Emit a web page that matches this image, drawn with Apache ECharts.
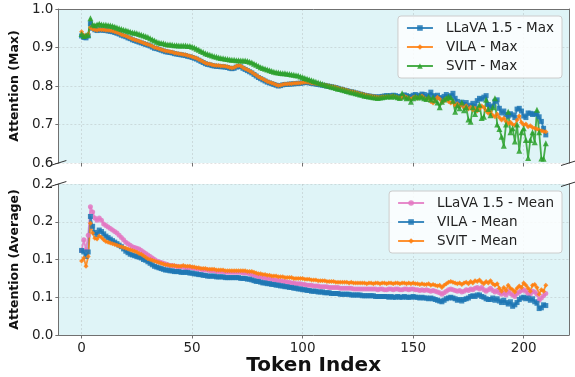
<!DOCTYPE html>
<html>
<head>
<meta charset="utf-8">
<script src="https://cdn.jsdelivr.net/npm/echarts@6.0.0/dist/echarts.min.js"></script>
<style>
  html, body { margin: 0; background: #fff; }
  #chart { width: 575px; height: 377px; }
</style>
</head>
<body>
<div id="chart"></div>
<script>
// token index 0..210
const tokens = Array.from({ length: 211 }, (_, i) => i);

const xTicks = [0, 50, 100, 150, 200];
const yMaxTicks = [0.6, 0.7, 0.8, 0.9, 1.0];
const yMaxLabels = ["0.6", "0.7", "0.8", "0.9", "1.0"];
const yAvgTicks = [0, 0.05, 0.1, 0.15, 0.2];
const yAvgLabels = ["0.0", "0.1", "0.1", "0.2", "0.2"];

// --- top panel: max attention ---
const llavaMax = [
  0.930, 0.926, 0.925, 0.930, 0.962, 0.950, 0.946, 0.944, 0.946, 0.945,
  0.945, 0.944, 0.943, 0.942, 0.941, 0.939, 0.937, 0.935, 0.932, 0.930,
  0.928, 0.925, 0.923, 0.920, 0.918, 0.916, 0.914, 0.912, 0.910, 0.908,
  0.906, 0.904, 0.901, 0.898, 0.897, 0.895, 0.893, 0.891, 0.889, 0.888,
  0.887, 0.886, 0.884, 0.883, 0.882, 0.881, 0.880, 0.879, 0.877, 0.876,
  0.874, 0.872, 0.870, 0.867, 0.864, 0.861, 0.858, 0.856, 0.855, 0.853,
  0.852, 0.851, 0.851, 0.850, 0.850, 0.849, 0.848, 0.846, 0.845, 0.846,
  0.849, 0.851, 0.850, 0.846, 0.843, 0.840, 0.837, 0.834, 0.830, 0.826,
  0.822, 0.819, 0.816, 0.813, 0.810, 0.808, 0.806, 0.804, 0.802, 0.800,
  0.801, 0.803, 0.804, 0.804, 0.805, 0.805, 0.806, 0.806, 0.807, 0.807,
  0.808, 0.809, 0.809, 0.808, 0.807, 0.806, 0.805, 0.804, 0.803, 0.802,
  0.801, 0.800, 0.799, 0.798, 0.797, 0.796, 0.794, 0.792, 0.791, 0.789,
  0.788, 0.786, 0.785, 0.784, 0.782, 0.781, 0.779, 0.778, 0.776, 0.775,
  0.774, 0.773, 0.772, 0.772, 0.771, 0.772, 0.773, 0.774, 0.775, 0.774,
  0.775, 0.776, 0.775, 0.773, 0.772, 0.774, 0.777, 0.775, 0.773, 0.772,
  0.776, 0.778, 0.774, 0.776, 0.779, 0.778, 0.772, 0.776, 0.784, 0.775,
  0.772, 0.776, 0.770, 0.768, 0.773, 0.778, 0.772, 0.775, 0.781, 0.768,
  0.760, 0.751, 0.758, 0.752, 0.757, 0.745, 0.750, 0.755, 0.748, 0.762,
  0.768, 0.766, 0.771, 0.775, 0.752, 0.745, 0.748, 0.760, 0.764, 0.742,
  0.730, 0.735, 0.726, 0.722, 0.728, 0.725, 0.718, 0.740, 0.742, 0.735,
  0.722, 0.718, 0.730, 0.729, 0.726, 0.728, 0.727, 0.720, 0.708, 0.690,
  0.673
];
const vilaMax = [
  0.941, 0.932, 0.930, 0.935, 0.952, 0.948, 0.946, 0.945, 0.947, 0.946,
  0.946, 0.945, 0.945, 0.944, 0.943, 0.941, 0.939, 0.937, 0.934, 0.932,
  0.930, 0.927, 0.925, 0.922, 0.920, 0.918, 0.916, 0.914, 0.912, 0.910,
  0.908, 0.906, 0.903, 0.900, 0.899, 0.897, 0.895, 0.893, 0.891, 0.890,
  0.889, 0.888, 0.886, 0.885, 0.884, 0.883, 0.882, 0.881, 0.879, 0.878,
  0.876, 0.874, 0.872, 0.869, 0.866, 0.863, 0.860, 0.858, 0.857, 0.855,
  0.854, 0.853, 0.853, 0.852, 0.852, 0.851, 0.850, 0.848, 0.847, 0.848,
  0.851, 0.853, 0.852, 0.848, 0.845, 0.842, 0.839, 0.836, 0.832, 0.828,
  0.824, 0.821, 0.818, 0.815, 0.812, 0.810, 0.808, 0.806, 0.803, 0.801,
  0.802, 0.804, 0.805, 0.805, 0.806, 0.806, 0.807, 0.807, 0.808, 0.808,
  0.809, 0.810, 0.810, 0.809, 0.808, 0.807, 0.806, 0.805, 0.804, 0.803,
  0.802, 0.801, 0.800, 0.799, 0.798, 0.797, 0.795, 0.793, 0.792, 0.790,
  0.789, 0.787, 0.786, 0.785, 0.783, 0.782, 0.780, 0.779, 0.777, 0.776,
  0.775, 0.774, 0.773, 0.772, 0.771, 0.771, 0.772, 0.772, 0.773, 0.772,
  0.773, 0.774, 0.772, 0.770, 0.768, 0.770, 0.774, 0.771, 0.768, 0.766,
  0.770, 0.772, 0.768, 0.771, 0.774, 0.769, 0.765, 0.768, 0.760, 0.756,
  0.764, 0.771, 0.766, 0.758, 0.762, 0.767, 0.760, 0.756, 0.759, 0.750,
  0.754, 0.748, 0.752, 0.744, 0.749, 0.740, 0.745, 0.738, 0.742, 0.735,
  0.741, 0.748, 0.744, 0.736, 0.729, 0.733, 0.724, 0.720, 0.727, 0.718,
  0.712, 0.716, 0.708, 0.702, 0.706, 0.700, 0.698, 0.712, 0.722, 0.705,
  0.699, 0.701, 0.694, 0.697, 0.692, 0.690, 0.688, 0.686, 0.684, 0.682,
  0.681
];
const svitMax = [
  0.935, 0.930, 0.932, 0.933, 0.976, 0.960, 0.958, 0.960, 0.962, 0.960,
  0.959, 0.959, 0.958, 0.957, 0.956, 0.954, 0.952, 0.950, 0.948, 0.946,
  0.945, 0.943, 0.941, 0.939, 0.938, 0.937, 0.935, 0.933, 0.931, 0.929,
  0.927, 0.924, 0.921, 0.918, 0.915, 0.913, 0.912, 0.911, 0.909, 0.908,
  0.908, 0.907, 0.906, 0.906, 0.905, 0.905, 0.905, 0.905, 0.904, 0.904,
  0.902, 0.900, 0.897, 0.894, 0.891, 0.888, 0.885, 0.883, 0.881, 0.879,
  0.877, 0.876, 0.874, 0.873, 0.872, 0.871, 0.870, 0.869, 0.868, 0.868,
  0.867, 0.867, 0.866, 0.866, 0.866, 0.865, 0.863, 0.861, 0.858, 0.855,
  0.852, 0.849, 0.847, 0.845, 0.843, 0.841, 0.839, 0.837, 0.836, 0.835,
  0.834, 0.833, 0.833, 0.832, 0.831, 0.830, 0.829, 0.828, 0.827, 0.825,
  0.823, 0.821, 0.819, 0.817, 0.815, 0.813, 0.811, 0.809, 0.807, 0.805,
  0.803, 0.801, 0.800, 0.798, 0.797, 0.795, 0.793, 0.792, 0.790, 0.789,
  0.787, 0.786, 0.784, 0.783, 0.781, 0.780, 0.778, 0.777, 0.775, 0.774,
  0.773, 0.772, 0.771, 0.770, 0.769, 0.770, 0.771, 0.772, 0.773, 0.774,
  0.772, 0.775, 0.773, 0.771, 0.769, 0.781, 0.772, 0.768, 0.770, 0.759,
  0.768, 0.773, 0.770, 0.774, 0.771, 0.768, 0.766, 0.772, 0.765, 0.770,
  0.763, 0.757, 0.745, 0.759, 0.765, 0.768, 0.772, 0.770, 0.762, 0.733,
  0.750, 0.742, 0.757, 0.737, 0.745, 0.713, 0.707, 0.745, 0.727, 0.740,
  0.751, 0.717, 0.720, 0.764, 0.740, 0.724, 0.745, 0.768, 0.700, 0.688,
  0.668, 0.645, 0.700, 0.733, 0.680, 0.690, 0.656, 0.700, 0.632, 0.680,
  0.690, 0.660, 0.613, 0.660, 0.680, 0.654, 0.738, 0.680, 0.612, 0.611,
  0.651
];

// --- bottom panel: mean attention ---
const llavaMean = [
  0.112, 0.126, 0.113, 0.132, 0.170, 0.163, 0.155, 0.152, 0.155, 0.152,
  0.147, 0.145, 0.143, 0.141, 0.139, 0.137, 0.135, 0.132, 0.129, 0.126,
  0.123, 0.121, 0.119, 0.117, 0.116, 0.115, 0.114, 0.112, 0.110, 0.108,
  0.106, 0.104, 0.102, 0.100, 0.098, 0.097, 0.096, 0.095, 0.094, 0.093,
  0.092, 0.092, 0.091, 0.091, 0.090, 0.090, 0.090, 0.089, 0.089, 0.089,
  0.089, 0.088, 0.088, 0.087, 0.087, 0.086, 0.086, 0.086, 0.085, 0.085,
  0.085, 0.084, 0.084, 0.084, 0.084, 0.083, 0.083, 0.083, 0.083, 0.083,
  0.083, 0.083, 0.083, 0.082, 0.082, 0.082, 0.081, 0.080, 0.079, 0.078,
  0.077, 0.077, 0.076, 0.075, 0.075, 0.074, 0.074, 0.073, 0.073, 0.072,
  0.072, 0.071, 0.071, 0.070, 0.070, 0.069, 0.069, 0.068, 0.068, 0.068,
  0.067, 0.067, 0.066, 0.066, 0.066, 0.065, 0.065, 0.065, 0.064, 0.064,
  0.064, 0.064, 0.063, 0.063, 0.063, 0.063, 0.063, 0.062, 0.062, 0.062,
  0.062, 0.062, 0.062, 0.061, 0.061, 0.061, 0.061, 0.061, 0.061, 0.061,
  0.061, 0.061, 0.061, 0.061, 0.060, 0.061, 0.061, 0.060, 0.060, 0.061,
  0.061, 0.060, 0.061, 0.061, 0.060, 0.060, 0.061, 0.061, 0.060, 0.061,
  0.061, 0.060, 0.060, 0.059, 0.060, 0.059, 0.060, 0.059, 0.058, 0.059,
  0.058, 0.057, 0.056, 0.054, 0.056, 0.058, 0.060, 0.061, 0.060, 0.059,
  0.058, 0.059, 0.057, 0.058, 0.060, 0.059, 0.061, 0.060, 0.062, 0.063,
  0.061, 0.063, 0.060, 0.058, 0.060, 0.062, 0.059, 0.057, 0.059, 0.056,
  0.054, 0.056, 0.053, 0.058, 0.055, 0.053, 0.051, 0.055, 0.057, 0.059,
  0.060, 0.058, 0.055, 0.054, 0.058, 0.057, 0.054, 0.046, 0.049, 0.052,
  0.055
];
const vilaMean = [
  0.112, 0.110, 0.104, 0.110, 0.157, 0.144, 0.136, 0.133, 0.139, 0.137,
  0.134, 0.131, 0.129, 0.127, 0.125, 0.123, 0.121, 0.119, 0.117, 0.114,
  0.111, 0.109, 0.107, 0.106, 0.105, 0.104, 0.103, 0.102, 0.100, 0.099,
  0.097, 0.095, 0.093, 0.091, 0.090, 0.089, 0.088, 0.087, 0.086, 0.086,
  0.085, 0.085, 0.084, 0.084, 0.084, 0.083, 0.083, 0.083, 0.083, 0.082,
  0.082, 0.081, 0.081, 0.080, 0.080, 0.079, 0.079, 0.078, 0.078, 0.078,
  0.078, 0.077, 0.077, 0.077, 0.077, 0.076, 0.076, 0.076, 0.076, 0.076,
  0.076, 0.076, 0.075, 0.075, 0.075, 0.074, 0.074, 0.073, 0.072, 0.071,
  0.071, 0.070, 0.069, 0.069, 0.068, 0.068, 0.067, 0.067, 0.066, 0.066,
  0.065, 0.065, 0.064, 0.064, 0.063, 0.063, 0.062, 0.062, 0.061, 0.061,
  0.060, 0.060, 0.059, 0.059, 0.058, 0.058, 0.058, 0.057, 0.057, 0.057,
  0.056, 0.056, 0.056, 0.055, 0.055, 0.055, 0.055, 0.054, 0.054, 0.054,
  0.054, 0.054, 0.053, 0.053, 0.053, 0.053, 0.053, 0.052, 0.052, 0.052,
  0.052, 0.052, 0.052, 0.051, 0.051, 0.051, 0.051, 0.051, 0.051, 0.050,
  0.051, 0.050, 0.050, 0.051, 0.050, 0.050, 0.051, 0.050, 0.050, 0.050,
  0.051, 0.050, 0.050, 0.049, 0.050, 0.049, 0.049, 0.048, 0.049, 0.048,
  0.047, 0.046, 0.045, 0.044, 0.046, 0.048, 0.049, 0.050, 0.049, 0.048,
  0.046, 0.047, 0.045, 0.047, 0.048, 0.049, 0.051, 0.052, 0.051, 0.053,
  0.053, 0.051, 0.050, 0.048, 0.047, 0.047, 0.049, 0.046, 0.048, 0.045,
  0.043, 0.046, 0.043, 0.041, 0.044, 0.038, 0.040, 0.043, 0.047, 0.049,
  0.050, 0.048, 0.049, 0.046, 0.048, 0.044, 0.042, 0.035, 0.036, 0.040,
  0.039
];
const svitMean = [
  0.098, 0.102, 0.091, 0.104, 0.148, 0.135, 0.128, 0.127, 0.131, 0.129,
  0.126, 0.124, 0.123, 0.122, 0.121, 0.120, 0.119, 0.118, 0.117, 0.116,
  0.115, 0.114, 0.113, 0.112, 0.111, 0.110, 0.108, 0.107, 0.105, 0.103,
  0.101, 0.100, 0.099, 0.098, 0.097, 0.096, 0.095, 0.094, 0.093, 0.093,
  0.092, 0.092, 0.092, 0.091, 0.091, 0.091, 0.092, 0.091, 0.091, 0.091,
  0.090, 0.090, 0.089, 0.089, 0.088, 0.088, 0.088, 0.087, 0.087, 0.087,
  0.087, 0.086, 0.086, 0.086, 0.086, 0.085, 0.085, 0.085, 0.085, 0.085,
  0.085, 0.085, 0.085, 0.085, 0.085, 0.084, 0.084, 0.084, 0.083, 0.082,
  0.081, 0.081, 0.080, 0.080, 0.079, 0.079, 0.078, 0.078, 0.078, 0.077,
  0.077, 0.077, 0.076, 0.076, 0.076, 0.076, 0.075, 0.075, 0.075, 0.075,
  0.075, 0.074, 0.074, 0.074, 0.073, 0.073, 0.073, 0.072, 0.072, 0.072,
  0.072, 0.071, 0.071, 0.071, 0.071, 0.070, 0.070, 0.070, 0.070, 0.070,
  0.070, 0.069, 0.070, 0.069, 0.069, 0.069, 0.069, 0.069, 0.069, 0.068,
  0.069, 0.069, 0.068, 0.069, 0.069, 0.068, 0.069, 0.069, 0.068, 0.069,
  0.069, 0.068, 0.069, 0.069, 0.068, 0.069, 0.069, 0.068, 0.069, 0.068,
  0.069, 0.068, 0.068, 0.067, 0.068, 0.067, 0.067, 0.068, 0.066, 0.067,
  0.066, 0.065, 0.066, 0.063, 0.066, 0.068, 0.070, 0.071, 0.070, 0.069,
  0.068, 0.069, 0.067, 0.069, 0.070, 0.068, 0.071, 0.069, 0.072, 0.071,
  0.073, 0.070, 0.068, 0.071, 0.069, 0.072, 0.068, 0.066, 0.068, 0.062,
  0.058, 0.063, 0.059, 0.066, 0.062, 0.060, 0.057, 0.062, 0.065, 0.063,
  0.069, 0.066, 0.062, 0.058, 0.066, 0.067, 0.063, 0.054, 0.060, 0.058,
  0.066
];

const xMin = -10.5, xMax = 220.5;
const font = "DejaVu Sans";
const spineColor = "#707070";
const gridLine = { show: true, lineStyle: { color: "rgba(150,150,150,0.35)", type: [2, 2], width: 0.8 } };

function lineSeries(name, values, color, symbol, axisIdx) {
  return {
    name: name,
    type: "line",
    xAxisIndex: axisIdx,
    yAxisIndex: axisIdx,
    data: tokens.map((t, i) => [t, values[i]]),
    symbol: symbol,
    symbolSize: symbol === "triangle" ? 6 : 5,
    lineStyle: { color: color, width: 1.8, opacity: 0.85 },
    itemStyle: { color: color, opacity: 0.85 },
    emphasis: { disabled: true },
  };
}

function spineAxis(gridIndex, position, min, max) {
  return {
    type: "value", gridIndex: gridIndex, position: position, min: min, max: max,
    axisLine: { show: true, onZero: false, lineStyle: { color: spineColor, width: 1 } },
    axisTick: { show: false }, axisLabel: { show: false }, splitLine: { show: false },
  };
}

function labelFor(ticks, labels) {
  return (v) => {
    const k = ticks.findIndex((t) => Math.abs(t - v) < 1e-9);
    return k >= 0 ? labels[k] : "";
  };
}

const chart = echarts.init(document.getElementById("chart"), null, { renderer: "canvas" });

const legendBase = {
  orient: "vertical",
  right: 13,
  itemWidth: 26,
  itemHeight: 7,
  itemGap: 5,
  padding: [5, 8, 5, 8],
  backgroundColor: "rgba(255,255,255,0.82)",
  borderColor: "#cccccc",
  borderWidth: 1,
  borderRadius: 3,
  textStyle: { fontFamily: font, fontSize: 13.5, color: "#222", padding: [0, 0, 0, 8] },
};

const nameStyle = { fontFamily: font, fontSize: 12.5, fontWeight: "bold", color: "#111" };
const tickStyle = { fontFamily: font, fontSize: 13.5, color: "#222" };

const option = {
  animation: false,
  backgroundColor: "#ffffff",
  grid: [
    { left: 53, right: 6, top: 9, height: 154, show: true, backgroundColor: "#dff4f7", borderWidth: 0 },
    { left: 53, right: 6, top: 184, height: 152, show: true, backgroundColor: "#dff4f7", borderWidth: 0 },
  ],
  legend: [
    Object.assign({}, legendBase, { top: 16, data: ["LLaVA 1.5 - Max", "VILA - Max", "SVIT - Max"] }),
    Object.assign({}, legendBase, { top: 191, data: ["LLaVA 1.5 - Mean", "VILA - Mean", "SVIT - Mean"] }),
  ],
  xAxis: [
    {
      type: "value", gridIndex: 0, position: "bottom", min: xMin, max: xMax,
      axisLine: { show: false },
      axisTick: { show: true, length: 3.5, customValues: xTicks, lineStyle: { color: spineColor } },
      axisLabel: { show: false, customValues: xTicks },
      splitLine: gridLine,
    },
    {
      type: "value", gridIndex: 1, position: "bottom", min: xMin, max: xMax,
      axisLine: { show: true, onZero: false, lineStyle: { color: spineColor } },
      axisTick: { show: true, length: 3.5, customValues: xTicks, lineStyle: { color: spineColor } },
      axisLabel: Object.assign({ customValues: xTicks, margin: 6 }, tickStyle),
      splitLine: gridLine,
      name: "Token Index",
      nameLocation: "middle",
      nameGap: 21,
      nameTextStyle: { fontFamily: font, fontSize: 20, fontWeight: "bold", color: "#111" },
    },
    spineAxis(0, "top", xMin, xMax),
  ],
  yAxis: [
    {
      type: "value", gridIndex: 0, position: "left", min: 0.6, max: 1.0,
      axisLine: { show: true, onZero: false, lineStyle: { color: spineColor } },
      axisTick: { show: true, length: 3, customValues: yMaxTicks, lineStyle: { color: spineColor } },
      axisLabel: Object.assign({ customValues: yMaxTicks, formatter: labelFor(yMaxTicks, yMaxLabels), margin: 5 }, tickStyle),
      splitLine: gridLine,
      name: "Attention (Max)",
      nameLocation: "middle",
      nameGap: 30,
      nameTextStyle: nameStyle,
    },
    {
      type: "value", gridIndex: 1, position: "left", min: 0, max: 0.2,
      axisLine: { show: true, onZero: false, lineStyle: { color: spineColor } },
      axisTick: { show: true, length: 3, customValues: yAvgTicks, lineStyle: { color: spineColor } },
      axisLabel: Object.assign({ customValues: yAvgTicks, formatter: labelFor(yAvgTicks, yAvgLabels), margin: 5 }, tickStyle),
      splitLine: gridLine,
      name: "Attention (Average)",
      nameLocation: "middle",
      nameGap: 30,
      nameTextStyle: nameStyle,
    },
    spineAxis(0, "right", 0.6, 1.0),
    spineAxis(1, "right", 0, 0.2),
  ],
  series: [
    lineSeries("LLaVA 1.5 - Max", llavaMax, "#1f77b4", "rect", 0),
    lineSeries("VILA - Max", vilaMax, "#ff7f0e", "diamond", 0),
    lineSeries("SVIT - Max", svitMax, "#2ca02c", "triangle", 0),
    lineSeries("LLaVA 1.5 - Mean", llavaMean, "#e377c2", "circle", 1),
    lineSeries("VILA - Mean", vilaMean, "#1f77b4", "rect", 1),
    lineSeries("SVIT - Mean", svitMean, "#ff7f0e", "diamond", 1),
  ],
};

chart.setOption(option);

// diagonal break marks at the inner corners of both panels
const bl = chart.convertToPixel({ xAxisIndex: 0, yAxisIndex: 0 }, [xMin, 0.6]);
const br = chart.convertToPixel({ xAxisIndex: 0, yAxisIndex: 0 }, [xMax, 0.6]);
const tl = chart.convertToPixel({ xAxisIndex: 1, yAxisIndex: 1 }, [xMin, 0.2]);
const tr = chart.convertToPixel({ xAxisIndex: 1, yAxisIndex: 1 }, [xMax, 0.2]);
const mark = (p) => ({
  type: "line",
  shape: { x1: p[0] - 8, y1: p[1] + 2.5, x2: p[0] + 8, y2: p[1] - 2.5 },
  style: { stroke: "#333", lineWidth: 1 },
  z: 100,
});
chart.setOption({ graphic: [bl, br, tl, tr].map(mark) });
</script>
</body>
</html>
